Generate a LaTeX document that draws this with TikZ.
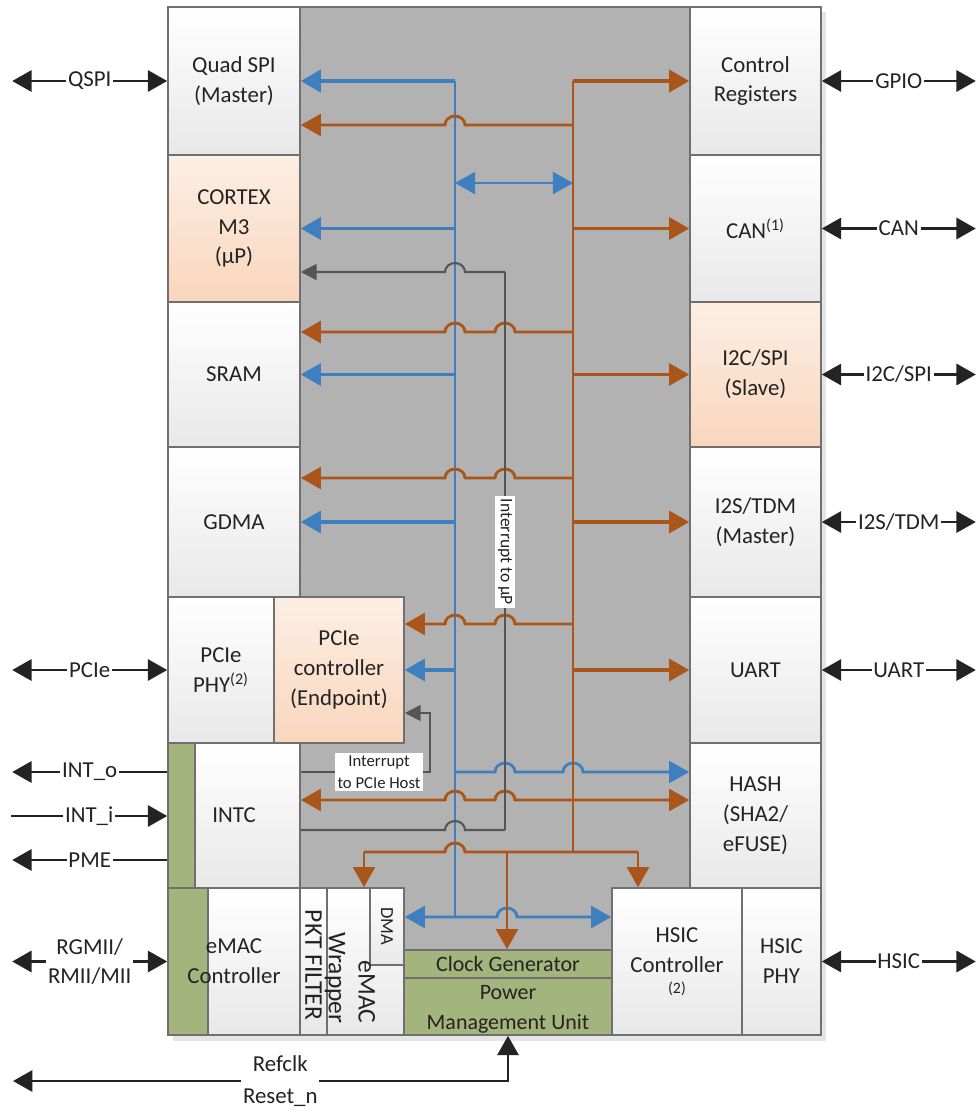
\documentclass[tikz,border=0pt]{standalone}
\usepackage{fontspec}
\setmainfont{Carlito}
\usetikzlibrary{arrows.meta,calc,positioning}

\definecolor{busblue}{RGB}{62,127,192}
\definecolor{busbrown}{RGB}{170,85,25}
\definecolor{wiregray}{RGB}{85,85,85}
\definecolor{areagray}{RGB}{178,178,178}
\definecolor{framegray}{RGB}{112,112,112}
\definecolor{peach}{RGB}{249,214,188}
\definecolor{olive}{RGB}{163,181,124}
\definecolor{inkgray}{RGB}{35,35,35}

% little bridge of a wire over a crossing line
\newcommand{\hopL}[2]{-- (#1+10,#2) arc[start angle=0,end angle=180,x radius=2mm,y radius=1.8mm]}
\newcommand{\hopR}[2]{-- (#1-10,#2) arc[start angle=180,end angle=0,x radius=2mm,y radius=1.8mm]}

\tikzset{
  wh/.style 2 args={minimum width=#1*0.02cm, minimum height=#2*0.02cm},
  block/.style={draw=framegray, line width=0.9pt, inner sep=0pt, align=center,
    text=inkgray, font=\fontsize{13}{17}\selectfont},
  light/.style={block, top color=white, bottom color=black!9},
  warm/.style={block, top color=peach!40!white, bottom color=peach},
  greenbox/.style={block, fill=olive},
  strip/.style={path picture={
      \fill[olive] (path picture bounding box.north west) rectangle
        ([xshift=#1]path picture bounding box.south west);
      \draw[framegray, line width=0.9pt] ([xshift=#1]path picture bounding box.north west)
        -- ([xshift=#1]path picture bounding box.south west);}},
  rot/.style={rotate=-90, inner sep=0pt, text=inkgray, font=\fontsize{14.5}{17}\selectfont},
  tag/.style={fill=white, inner sep=1.5pt, align=center, text=inkgray},
  ext/.style={draw=inkgray, line width=1.6pt, >={Triangle[length=11pt,width=12pt]}},
  lab/.style={fill=white, inner sep=1pt, text=inkgray, font=\fontsize{13}{16}\selectfont},
  wire/.style={line width=1.6pt, >={Triangle[length=11.5pt,width=12.5pt]}},
  midw/.style={line width=2.1pt},
  fat/.style={line width=2.7pt},
  bluew/.style={wire, draw=busblue},
  brownw/.style={wire, draw=busbrown},
  grayw/.style={line width=1.2pt, draw=wiregray, >={Triangle[length=9pt,width=9pt]}},
}

\begin{document}
\begin{tikzpicture}[x=0.02cm, y=-0.02cm]
  \useasboundingbox (0,0) rectangle (975,1110);
  % shadow and bus area
  \fill[black!10] (173,12) rectangle (826,1041);
  \fill[areagray] (300,7) rectangle (690,950);
  % left column
  \node[light, wh={132}{148}] (qspi) at (234,81) {Quad SPI\\(Master)};
  \node[warm, wh={132}{147}] (cortex) at (234,228.5) {CORTEX\\M3\\(µP)};
  \node[light, wh={132}{145}] (sram) at (234,374.5) {SRAM};
  \node[light, wh={132}{150}] (gdma) at (234,522) {GDMA};
  \node[light, wh={106}{146}] (pciephy) at (221,670) {PCIe\\PHY\textsuperscript{(2)}};
  \node[warm, wh={130}{146}] (pcie) at (339,670) {PCIe\\controller\\(Endpoint)};
  \node[light, strip=0.54cm, wh={132}{145}] (intc) at (234,815.5) {INTC};
  \node[light, strip=0.8cm, wh={132}{147}] (emac) at (234,961.5) {eMAC\\Controller};
  \node[light, wh={27}{147}] (pkt) at (313.5,961.5) {};
  \node[light, wh={77}{147}] (wrap) at (365.5,961.5) {};
  \node[light, wh={34}{77}] (dma) at (387,926.5) {};
  \node[greenbox, wh={208}{28}, font=\fontsize{12.5}{15}\selectfont] (clk) at (508,964) {Clock Generator};
  \node[greenbox, wh={208}{57}] (pmu) at (508,1006.5) {};
  \node[block, draw=none, font=\fontsize{12.5}{17}\selectfont] (pmulbl) at (508,1009) {Power\\Management Unit};
  \node[light, wh={130}{147}] (hsicc) at (677,961.5) {HSIC\\Controller\\[-5pt]{\fontsize{9}{10}\selectfont (2)}};
  \node[light, wh={79}{147}] (hsicp) at (781.5,961.5) {HSIC\\PHY};
  % right column
  \node[light, wh={131}{148}] (ctrl) at (755.5,81) {Control\\Registers};
  \node[light, wh={131}{147}] (can) at (755.5,228.5) {CAN\textsuperscript{(1)}};
  \node[warm, wh={131}{145}] (i2c) at (755.5,374.5) {I2C/SPI\\(Slave)};
  \node[light, wh={131}{150}] (i2s) at (755.5,522) {I2S/TDM\\(Master)};
  \node[light, wh={131}{146}] (uart) at (755.5,670) {UART};
  \node[light, wh={131}{145}] (hash) at (755.5,815.5) {HASH\\(SHA2/\\eFUSE)};
  % rotated labels
  \node[rot] (pktlbl) at (313.5,965) {PKT FILTER};
  \node[rot, align=right] (wraplbl) at (350,978) {eMAC\\Wrapper};
  \node[rot, font=\fontsize{10.5}{12}\selectfont] (dmalbl) at (dma.center) {DMA};

  % blue bus
  \draw[bluew] (455,81) -- (455,917);
  \draw[bluew,fat,->] (455,81) -- (qspi.east);
  \draw[bluew,<->] (455,183) -- (573,183);
  \draw[bluew,midw,->] (455,0 |- cortex.east) -- (cortex.east);
  \draw[bluew,midw,->] (455,0 |- sram.east) -- (sram.east);
  \draw[bluew,midw,->] (455,0 |- gdma.east) -- (gdma.east);
  \draw[bluew,midw,->] (455,0 |- pcie.east) -- (pcie.east);
  \draw[bluew,->] (455,772) \hopR{505}{772} \hopR{573}{772} -- (hash.west |- 0,772);
  \draw[bluew,<->] (dma.east |- 0,917) \hopR{507}{917} -- (hsicc.west |- 0,917);

  % brown bus
  \draw[brownw] (573,81) -- (573,852);
  \draw[brownw,fat,->] (573,81) -- (ctrl.west);
  \draw[brownw,midw,->] (573,0 |- can.west) -- (can.west);
  \draw[brownw,midw,->] (573,0 |- i2c.west) -- (i2c.west);
  \draw[brownw,midw,->] (573,0 |- i2s.west) -- (i2s.west);
  \draw[brownw,midw,->] (573,0 |- uart.west) -- (uart.west);
  \draw[brownw,->] (573,125) \hopL{455}{125} -- (qspi.east |- 0,125);
  \draw[brownw,->] (573,332) \hopL{505}{332} \hopL{455}{332} -- (sram.east |- 0,332);
  \draw[brownw,->] (573,478) \hopL{505}{478} \hopL{455}{478} -- (gdma.east |- 0,478);
  \draw[brownw,->] (573,624) \hopL{505}{624} \hopL{455}{624} -- (pcie.east |- 0,624);
  \draw[brownw,<->] (intc.east |- 0,800) \hopR{455}{800} \hopR{505}{800} -- (hash.west |- 0,800);
  \draw[brownw] (364,852) \hopR{455}{852} -- (638,852);
  \draw[brownw,->] (364,852) -- (364,0 |- wrap.north);
  \draw[brownw,->] (507,852) -- (507,0 |- clk.north);
  \draw[brownw,->] (638,852) -- (638,0 |- hsicc.north);

  % interrupt lines
  \draw[grayw] (505,272) -- (505,830);
  \draw[grayw,->] (505,272) \hopL{455}{272} -- (cortex.east |- 0,272);
  \draw[grayw] (505,830) \hopL{455}{830} -- (intc.east |- 0,830);
  \draw[grayw,->] (intc.east |- 0,772) -| (430,713) -- (pcie.east |- 0,713);
  \node[tag, rotate=-90, font=\fontsize{10}{12}\selectfont] (irqcpu) at (505,552) {Interrupt to µP};
  \node[tag, font=\fontsize{9.5}{12.5}\selectfont] (irqhost) at (379,772) {Interrupt\\to PCIe Host};

  % pins, left side
  \draw[ext,<->] (qspi.west) -- node[lab] {QSPI} ++(-155,0);
  \draw[ext,<->] (pciephy.west) -- node[lab] {PCIe} ++(-155,0);
  \draw[ext,->] (intc.west |- 0,772) -- node[lab] {INT\_o} ++(-155,0);
  \draw[ext,<-] (intc.west |- 0,816) -- node[lab] {INT\_i} ++(-156,0);
  \draw[ext,->] (intc.west |- 0,860) -- node[lab] {PME} ++(-155,0);
  \draw[ext,<->] (emac.west) -- node[lab, align=center] {RGMII/\\RMII/MII} ++(-155,0);
  % pins, right side
  \draw[ext,<->] (ctrl.east) -- node[lab] {GPIO} ++(154,0);
  \draw[ext,<->] (can.east) -- node[lab] {CAN} ++(154,0);
  \draw[ext,<->] (i2c.east) -- node[lab] {I2C/SPI} ++(154,0);
  \draw[ext,<->] (i2s.east) -- node[lab] {I2S/TDM} ++(154,0);
  \draw[ext,<->] (uart.east) -- node[lab] {UART} ++(154,0);
  \draw[ext,<->] (hsicp.east) -- node[lab] {HSIC} ++(154,0);
  % clock and reset
  \draw[ext,<->] (13,1081) -- node[lab, pos=0.54, align=center, font=\fontsize{13}{18}\selectfont] (rst) {Refclk\\Reset\_n} (508,1081) -- (pmu.south);

  % chip outline
  \draw[framegray, line width=1.2pt] (168,7) rectangle (821,1035);
\end{tikzpicture}
\end{document}
